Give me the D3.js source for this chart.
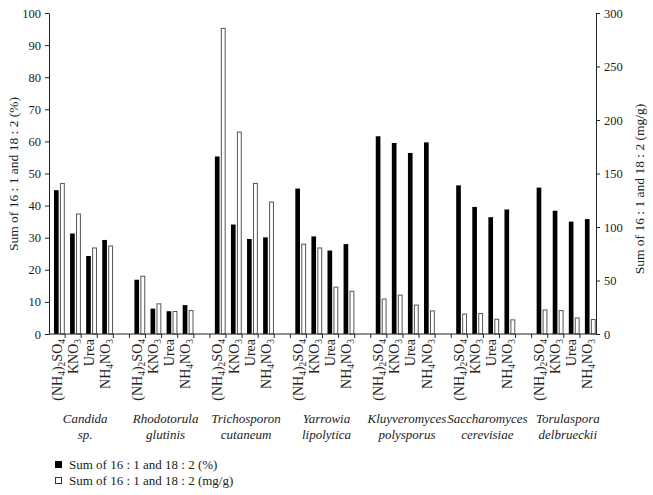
<!DOCTYPE html>
<html lang="en">
<head>
<meta charset="UTF-8">
<title>Sum of 16:1 and 18:2</title>
<script src="https://d3js.org/d3.v7.min.js"></script>
<style>
  body { margin: 0; background: #fff; }
  text { font-family: "Liberation Serif", "Times New Roman", serif; fill: #222; }
  .axis path, .axis line { stroke: #222; }
  .axis text { font-size: 12.5px; font-family: "Liberation Serif", "Times New Roman", serif; fill: #222; }
</style>
</head>
<body>
<svg width="653" height="495"></svg>
<script>
// organisms (two lines each) and nitrogen sources ("_" marks a subscript digit)
const organisms = [
  ["Candida", "sp."],
  ["Rhodotorula", "glutinis"],
  ["Trichosporon", "cutaneum"],
  ["Yarrowia", "lipolytica"],
  ["Kluyveromyces", "polysporus"],
  ["Saccharomyces", "cerevisiae"],
  ["Torulaspora", "delbrueckii"]
];
const sources = ["(NH_4)_2SO_4", "KNO_3", "Urea", "NH_4NO_3"];

// Sum of 16:1 and 18:2 (%) - left axis, per organism x source
const percent = [
  [44.8, 31.3, 24.3, 29.3],
  [16.9, 7.9, 7.1, 9.0],
  [55.3, 34.1, 29.6, 30.1],
  [45.3, 30.4, 26.0, 28.0],
  [61.6, 59.5, 56.4, 59.7],
  [46.3, 39.6, 36.4, 38.8],
  [45.6, 38.4, 35.0, 35.8]
];
// Sum of 16:1 and 18:2 (mg/g) - right axis
const mgPerG = [
  [140.7, 112.2, 80.4, 82.2],
  [54.0, 28.2, 21.0, 21.9],
  [285.6, 188.7, 140.7, 123.3],
  [84.0, 80.4, 43.8, 39.9],
  [32.7, 36.3, 27.0, 21.6],
  [18.6, 19.2, 13.8, 13.2],
  [22.5, 21.9, 15.0, 13.5]
];
const leftTicks = d3.range(0, 101, 10);
const rightTicks = d3.range(0, 301, 50);
const seriesNames = ["Sum of 16 : 1 and 18 : 2 (%)", "Sum of 16 : 1 and 18 : 2 (mg/g)"];

const svg = d3.select("svg");
const plotLeft = 49, plotRight = 596, plotTop = 13, plotBottom = 334;

// one band per source plus an empty band between organisms
const keys = [];
organisms.forEach((o, gi) => {
  sources.forEach((s, si) => keys.push(gi + "-" + si));
  if (gi < organisms.length - 1) keys.push("gap" + gi);
});
const x = d3.scaleBand().domain(keys).range([plotLeft, plotRight]).padding(0);
const bw = x.bandwidth();
const yL = d3.scaleLinear().domain([0, 100]).range([plotBottom, plotTop]);
const yR = d3.scaleLinear().domain([0, 300]).range([plotBottom, plotTop]);

// bars
const rows = [];
organisms.forEach((o, gi) => sources.forEach((s, si) => rows.push({
  key: gi + "-" + si, pct: percent[gi][si], mg: mgPerG[gi][si]
})));

svg.append("g").selectAll("rect").data(rows).join("rect")
  .attr("x", d => x(d.key) + bw * 0.31)
  .attr("width", bw * 0.29)
  .attr("y", d => yL(d.pct))
  .attr("height", d => yL(0) - yL(d.pct))
  .attr("fill", "#000");

svg.append("g").selectAll("rect").data(rows).join("rect")
  .attr("x", d => x(d.key) + bw * 0.68 + 0.5)
  .attr("width", bw * 0.24)
  .attr("y", d => yR(d.mg))
  .attr("height", d => yR(0) - yR(d.mg))
  .attr("fill", "#fff")
  .attr("stroke", "#555")
  .attr("stroke-width", 1);

// axes
svg.append("g").attr("class", "axis")
  .attr("transform", `translate(${plotLeft},0)`)
  .call(d3.axisLeft(yL).tickValues(leftTicks).tickSize(4).tickSizeOuter(0).tickPadding(4));

svg.append("g").attr("class", "axis")
  .attr("transform", `translate(${plotRight},0)`)
  .call(d3.axisRight(yR).tickValues(rightTicks).tickSize(4).tickSizeOuter(0).tickPadding(4));

const xa = svg.append("g").attr("class", "axis");
xa.append("line").attr("x1", plotLeft).attr("x2", plotRight).attr("y1", plotBottom).attr("y2", plotBottom);
xa.selectAll("line.t").data(keys.slice(1)).join("line").attr("class", "t")
  .attr("x1", d => x(d)).attr("x2", d => x(d))
  .attr("y1", plotBottom).attr("y2", plotBottom + 4);

// rotated source labels with subscripts
function addLabel(sel, str, size, subSize) {
  const parts = str.split(/(_\d)/).filter(p => p.length);
  let sub = false;
  parts.forEach(p => {
    if (p[0] === "_") {
      sel.append("tspan").attr("font-size", subSize).attr("dy", sub ? 0 : 3).text(p[1]);
      sub = true;
    } else {
      sel.append("tspan").attr("font-size", size).attr("dy", sub ? -3 : 0).text(p);
      sub = false;
    }
  });
}
rows.forEach(d => {
  const si = +d.key.split("-")[1];
  const t = svg.append("text")
    .attr("transform", `translate(${x(d.key) + bw / 2 + 4.5},${plotBottom + 5}) rotate(-90)`)
    .attr("text-anchor", "end");
  addLabel(t, sources[si], "14px", "9.5px");
});

// organism labels
organisms.forEach((o, gi) => {
  const cx = (x(gi + "-0") + x(gi + "-3") + bw) / 2 + 4;
  o.forEach((line, li) => {
    svg.append("text").attr("x", cx).attr("y", 423 + li * 15.5)
      .attr("text-anchor", "middle").attr("font-style", "italic")
      .attr("font-size", "13px").text(line);
  });
});

// axis titles
svg.append("text").attr("transform", "translate(18,174) rotate(-90)")
  .attr("text-anchor", "middle").attr("font-size", "13.5px").text(seriesNames[0]);
svg.append("text").attr("transform", "translate(644,189) rotate(-90)")
  .attr("text-anchor", "middle").attr("font-size", "13.5px").text(seriesNames[1]);

// legend
const lg = svg.append("g");
seriesNames.forEach((n, i) => {
  lg.append("rect").attr("x", 55.5).attr("y", 461.5 + i * 16).attr("width", 6).attr("height", 6)
    .attr("fill", i === 0 ? "#000" : "#fff").attr("stroke", i === 0 ? "#000" : "#333");
  lg.append("text").attr("x", 69).attr("y", 469 + i * 16)
    .attr("font-size", "13px").text(n);
});
</script>
</body>
</html>
